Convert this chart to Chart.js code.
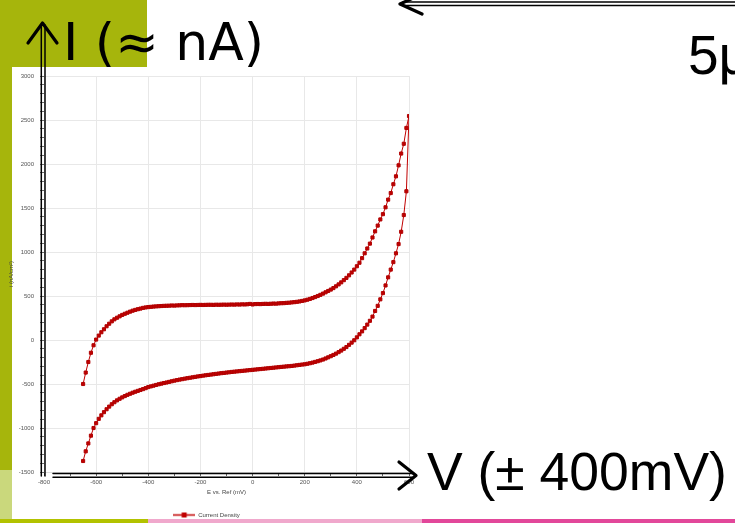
<!DOCTYPE html>
<html>
<head>
<meta charset="utf-8">
<title>Current Density</title>
<script src="https://cdn.jsdelivr.net/npm/chart.js@4.4.0/dist/chart.umd.min.js"></script>
<style>
  html, body { margin: 0; padding: 0; background: #fff; }
  #slide { position: relative; width: 735px; height: 523px; overflow: hidden; }
  #ivChart { position: absolute; left: 0; top: 0; }
  .slide-label { position: absolute; color: #000; line-height: 1; white-space: nowrap; }
  #labelCurrent { left: 63px; top: 12px; font: 52px "DejaVu Sans", sans-serif; }
  #labelVoltage { left: 427px; top: 441px; font: 53.5px "Liberation Sans", Arial, sans-serif; }
  #labelScale { left: 688px; top: 23px; font: 55px "Liberation Sans", Arial, sans-serif; }
</style>
</head>
<body>
<div id="slide">
  <canvas id="ivChart" width="735" height="523"></canvas>
  <div class="slide-label" id="labelCurrent">I (≈ nA)</div>
  <div class="slide-label" id="labelVoltage">V (± 400mV)</div>
  <div class="slide-label" id="labelScale">5μ</div>
</div>

<script>
// Potential (mV vs. Ref), one row per 100 mV
const potential = [
  -650, -640, -630, -620, -610, -600, -590, -580, -570, -560,
  -550, -540, -530, -520, -510, -500, -490, -480, -470, -460,
  -450, -440, -430, -420, -410, -400, -390, -380, -370, -360,
  -350, -340, -330, -320, -310, -300, -290, -280, -270, -260,
  -250, -240, -230, -220, -210, -200, -190, -180, -170, -160,
  -150, -140, -130, -120, -110, -100, -90, -80, -70, -60,
  -50, -40, -30, -20, -10, 0, 10, 20, 30, 40,
  50, 60, 70, 80, 90, 100, 110, 120, 130, 140,
  150, 160, 170, 180, 190, 200, 210, 220, 230, 240,
  250, 260, 270, 280, 290, 300, 310, 320, 330, 340,
  350, 360, 370, 380, 390, 400, 410, 420, 430, 440,
  450, 460, 470, 480, 490, 500, 510, 520, 530, 540,
  550, 560, 570, 580, 590, 600
];

// forward sweep (lower branch), same order as potential
const currentForward = [
  -1375, -1265, -1175, -1087, -1000, -945, -896, -856, -820, -787,
  -757, -730, -707, -686, -668, -652, -637, -623, -611, -599,
  -588, -578, -568, -558, -547, -535, -527, -519, -511, -503,
  -496, -489, -483, -476, -469, -462, -456, -450, -445, -439,
  -434, -429, -424, -419, -414, -410, -405, -401, -397, -393,
  -389, -385, -381, -377, -374, -370, -367, -363, -360, -357,
  -354, -351, -348, -345, -342, -339, -336, -333, -330, -327,
  -324, -321, -318, -315, -312, -309, -306, -303, -300, -298,
  -295, -291, -287, -283, -279, -276, -270, -264, -257, -249,
  -241, -232, -222, -210, -197, -184, -170, -155, -138, -120,
  -100, -80, -55, -30, -3, 30, 65, 98, 135, 175,
  218, 266, 330, 388, 462, 533, 620, 712, 800, 885,
  985, 1090, 1230, 1420, 1690, 2545
];

// reverse sweep (upper branch), same order as potential
const currentReverse = [
  -500, -370, -250, -145, -60, 5, 50, 88, 122, 156,
  185, 212, 235, 253, 269, 285, 298, 310, 322, 333,
  342, 350, 357, 365, 370, 374, 377, 380, 382, 384,
  386, 388, 389, 390, 392, 391, 393, 394, 396, 395,
  396, 397, 398, 397, 398, 399, 398, 399, 400, 400,
  399, 401, 400, 401, 402, 401, 402, 403, 402, 404,
  403, 405, 404, 406, 410, 404, 408, 409, 408, 410,
  411, 410, 412, 414, 413, 416, 418, 419, 422, 424,
  427, 430, 434, 438, 444, 450, 458, 467, 477, 488,
  500, 513, 527, 542, 557, 573, 590, 610, 632, 655,
  680, 706, 735, 767, 800, 838, 878, 930, 985, 1040,
  1095, 1165, 1235, 1300, 1370, 1430, 1508, 1595, 1670, 1770,
  1860, 1985, 2119, 2230, 2410, 2545
];

const seriesName = 'Current Density';
const xTitle = 'E vs. Ref (mV)';
const yTitle = 'i (nA/cm²)';

const red = '#c00000';

// sweep goes up along the lower branch and comes back along the upper one
const points = potential.map((v, i) => ({ x: v, y: currentForward[i] }));
for (let i = potential.length - 2; i >= 0; i--) {
    points.push({ x: potential[i], y: currentReverse[i] });
}

// little line + square used as legend marker
function legendMarker() {
    const c = document.createElement('canvas');
    c.width = 22;
    c.height = 7;
    const g = c.getContext('2d');
    g.strokeStyle = red;
    g.lineWidth = 1.5;
    g.beginPath();
    g.moveTo(0, 3.5);
    g.lineTo(22, 3.5);
    g.stroke();
    g.fillStyle = red;
    g.fillRect(8.5, 1, 5, 5);
    return c;
}

// green slide background + the hand drawn black arrows
const slideDecor = {
    id: 'slideDecor',
    beforeDraw(chart) {
        const ctx = chart.ctx;
        ctx.save();
        ctx.fillStyle = '#a6b50c';
        ctx.fillRect(0, 0, 147, 67);
        ctx.fillRect(0, 67, 12, 403);
        ctx.fillStyle = '#cad87c';
        ctx.fillRect(0, 470, 12, 49);
        // bottom strip
        ctx.fillStyle = '#b2c200';
        ctx.fillRect(0, 519, 148, 4);
        ctx.fillStyle = '#f0a8cc';
        ctx.fillRect(148, 519, 274, 4);
        ctx.fillStyle = '#e2479a';
        ctx.fillRect(422, 519, 313, 4);
        ctx.restore();
    },
    afterDraw(chart) {
        const ctx = chart.ctx;
        const line = (x1, y1, x2, y2) => {
            ctx.beginPath();
            ctx.moveTo(x1, y1);
            ctx.lineTo(x2, y2);
            ctx.stroke();
        };
        const head = pts => {
            ctx.beginPath();
            ctx.moveTo(pts[0][0], pts[0][1]);
            pts.slice(1).forEach(p => ctx.lineTo(p[0], p[1]));
            ctx.stroke();
        };
        ctx.save();
        ctx.strokeStyle = '#000';
        ctx.lineCap = 'round';
        ctx.lineJoin = 'round';

        // vertical axis
        ctx.lineWidth = 1.5;
        line(41.3, 25, 41.3, 476);
        line(45, 25, 45, 476);
        ctx.lineWidth = 3.2;
        head([[28, 43], [42.5, 23], [57, 43]]);

        // horizontal axis
        ctx.lineWidth = 1.5;
        line(53, 473.5, 412, 473.5);
        line(53, 477.3, 412, 477.3);
        ctx.lineWidth = 3.2;
        head([[399, 462], [416, 475.5], [399, 489]]);

        // top arrow
        ctx.lineWidth = 1.6;
        line(403, 2, 735, 2);
        line(403, 5.5, 735, 5.5);
        ctx.lineWidth = 3.2;
        head([[422, -6], [400, 4], [422, 14]]);
        ctx.restore();
    }
};

const tickFont = { family: 'Liberation Sans, Arial, sans-serif', size: 6 };

new Chart(document.getElementById('ivChart'), {
    type: 'line',
    data: {
        datasets: [{
            label: seriesName,
            data: points,
            borderColor: red,
            backgroundColor: red,
            borderWidth: 1,
            pointStyle: 'rect',
            pointRadius: 2.2,
            pointBorderWidth: 1,
            pointBorderColor: '#b00000',
            pointBackgroundColor: red,
            tension: 0
        }]
    },
    options: {
        responsive: false,
        animation: false,
        devicePixelRatio: 1,
        layout: {
            padding: { left: 4, right: 326, top: 76, bottom: -5 }
        },
        scales: {
            x: {
                type: 'linear',
                min: -800,
                max: 600,
                afterFit: scale => { scale.height = 36; },
                ticks: {
                    stepSize: 100,
                    autoSkip: false,
                    maxRotation: 0,
                    padding: 3,
                    font: tickFont,
                    color: '#555',
                    callback: v => (v % 200 === 0 ? v : '')
                },
                grid: {
                    color: c => (c.tick && c.tick.value % 200 === 0 ? '#e8e8e8' : 'rgba(0,0,0,0)'),
                    tickColor: '#666',
                    tickLength: 4
                },
                border: { color: '#dddddd' },
                title: {
                    display: true,
                    text: xTitle,
                    font: tickFont,
                    color: '#444',
                    padding: { top: 0, bottom: 12 }
                }
            },
            y: {
                min: -1500,
                max: 3000,
                afterFit: scale => { scale.width = 40; },
                ticks: {
                    stepSize: 100,
                    autoSkip: false,
                    padding: 6,
                    font: tickFont,
                    color: '#555',
                    callback: v => (v % 500 === 0 ? v : '')
                },
                grid: {
                    color: c => (c.tick && c.tick.value % 500 === 0 ? '#e8e8e8' : 'rgba(0,0,0,0)'),
                    tickColor: '#666',
                    tickLength: 4
                },
                border: { color: '#dddddd' },
                title: {
                    display: true,
                    text: yTitle,
                    font: tickFont,
                    color: '#444',
                    padding: { top: 4, bottom: 0 }
                }
            }
        },
        plugins: {
            legend: {
                position: 'bottom',
                labels: {
                    usePointStyle: true,
                    pointStyle: legendMarker(),
                    pointStyleWidth: 22,
                    padding: 4,
                    font: tickFont,
                    color: '#444'
                }
            },
            tooltip: { enabled: false }
        }
    },
    plugins: [slideDecor]
});
</script>
</body>
</html>
